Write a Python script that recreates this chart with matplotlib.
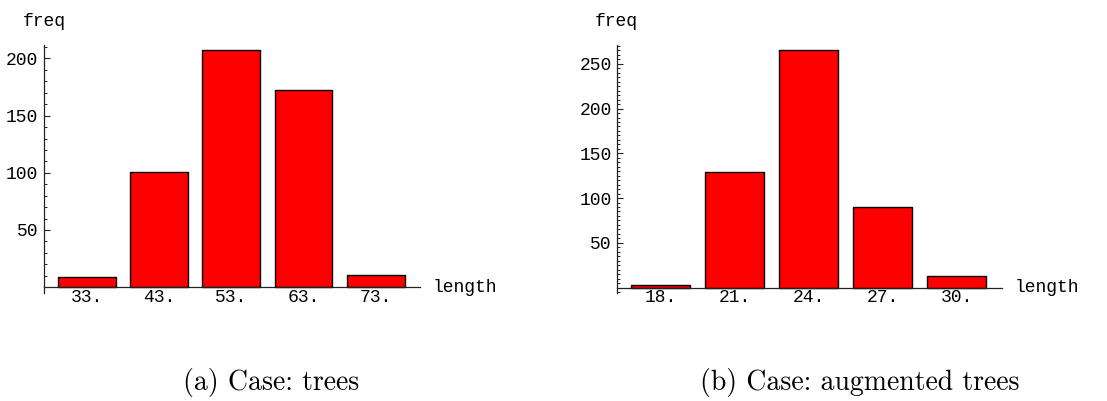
import matplotlib
matplotlib.use("Agg")
import matplotlib.pyplot as plt
from matplotlib.ticker import MultipleLocator

# data
len_trees = [33, 43, 53, 63, 73]
freq_trees = [9, 101, 207, 172, 11]
len_aug = [18, 21, 24, 27, 30]
freq_aug = [3, 129, 265, 90, 13]

mono = "Liberation Mono"
fs = 13


def draw(ax, xs, ys, step, xlim, ylim, major, minor):
    ax.bar(xs, ys, width=0.8 * step, color="#ff0000", edgecolor="black",
           linewidth=1.0, zorder=3)
    ax.set_xlim(*xlim)
    ax.set_ylim(*ylim)
    for s in ["top", "right"]:
        ax.spines[s].set_visible(False)
    ax.spines["bottom"].set_position(("data", 0))
    ax.spines["bottom"].set_zorder(4)
    for s in ["left", "bottom"]:
        ax.spines[s].set_linewidth(0.9)
        ax.spines[s].set_color("#222222")
    ax.set_xticks(xs)
    ax.set_xticklabels([f"{x}." for x in xs], fontfamily=mono, fontsize=fs)
    ax.tick_params(axis="x", length=0, pad=1)
    ax.yaxis.set_major_locator(MultipleLocator(major))
    ax.yaxis.set_minor_locator(MultipleLocator(minor))
    ax.set_yticks([t for t in ax.get_yticks() if 0 < t <= ylim[1]])
    for lab in ax.get_yticklabels():
        lab.set_fontfamily(mono)
        lab.set_fontsize(fs)
    ax.tick_params(axis="y", which="major", direction="in", length=4,
                   width=0.8, pad=4, color="#222222")
    ax.tick_params(axis="y", which="minor", direction="in", length=2.2,
                   width=0.7, color="#222222")
    ax.patch.set_visible(False)


fig = plt.figure(figsize=(11.07, 4.01), dpi=100)

ax1 = fig.add_axes([0.0397, 0.2696, 0.3397, 0.618])
draw(ax1, len_trees, freq_trees, 10, (27.1, 79.1), (-5, 211.7), 50, 10)

ax2 = fig.add_axes([0.5576, 0.2696, 0.3472, 0.618])
draw(ax2, len_aug, freq_aug, 3, (16.23, 31.83), (-6, 271), 50, 5)

fig.text(22.7 / 1107, 1 - 21 / 401, "freq", fontfamily=mono, fontsize=fs,
         ha="left", va="center")
fig.text(595 / 1107, 1 - 21 / 401, "freq", fontfamily=mono, fontsize=fs,
         ha="left", va="center")
fig.text(433 / 1107, 1 - 288 / 401, "length", fontfamily=mono, fontsize=fs,
         ha="left", va="center")
fig.text(1015 / 1107, 1 - 288 / 401, "length", fontfamily=mono, fontsize=fs,
         ha="left", va="center")

fig.text(271 / 1107, 0.047, "(a) Case: trees", fontfamily="cmr10",
         fontsize=20, ha="center", va="center")
fig.text(860 / 1107, 0.047, "(b) Case: augmented trees", fontfamily="cmr10",
         fontsize=20, ha="center", va="center")

fig.savefig("out.png", dpi=100)
